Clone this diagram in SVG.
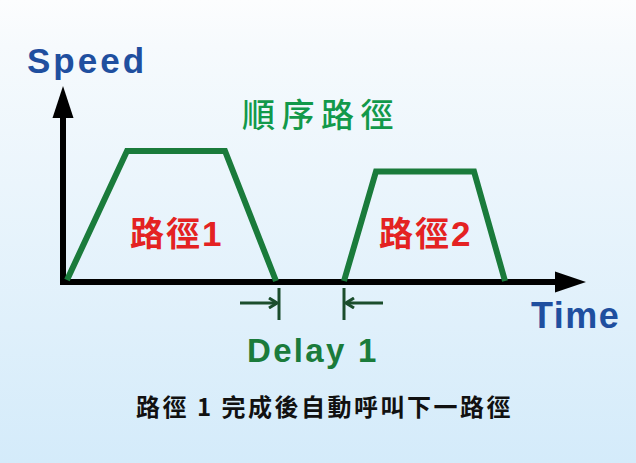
<svg xmlns="http://www.w3.org/2000/svg" width="636" height="463" viewBox="0 0 636 463">
<defs>
<linearGradient id="bg" x1="0" y1="0" x2="0" y2="1">
<stop offset="0" stop-color="#fcfdfe"/>
<stop offset="0.1" stop-color="#f6fafd"/>
<stop offset="1" stop-color="#d4ebfa"/>
</linearGradient>
<marker id="chev" markerWidth="10" markerHeight="12" refX="9" refY="6" orient="auto" markerUnits="userSpaceOnUse">
<path d="M1,1 L9,6 L1,11" fill="none" stroke="#1b4d2c" stroke-width="3"/>
</marker>
</defs>
<style>
.axis{stroke:#000;stroke-width:6;fill:none}
.prof{stroke:#1a7b3b;stroke-width:6;fill:none;stroke-linejoin:miter}
.dl{stroke:#1b4d2c;stroke-width:3;fill:none}
.lbl{font-family:"Liberation Sans",Arial,sans-serif;font-weight:bold}
.cjk{font-family:"Noto Sans CJK TC","Noto Sans CJK SC",sans-serif}
</style>
<rect x="0" y="0" width="636" height="463" fill="url(#bg)"/>
<g id="axes">
<line class="axis" x1="63" y1="282" x2="556" y2="282"/>
<path d="M555,271.5 L586,282 L555,292.5 Z" fill="#000"/>
<line class="axis" x1="63" y1="285" x2="63" y2="115"/>
<path d="M52.5,118 L63,86 L73.5,118 Z" fill="#000"/>
</g>
<g id="path1">
<path class="prof" d="M67,280 L127,151 L225,151 L276,281"/>
</g>
<g id="path2">
<path class="prof" d="M344,281 L376,171.5 L474,171.5 L505,281"/>
</g>
<g id="connectors">
<line class="dl" x1="279" y1="288" x2="279" y2="320"/>
<line class="dl" x1="240" y1="303" x2="277" y2="303" marker-end="url(#chev)"/>
<line class="dl" x1="344" y1="288" x2="344" y2="320"/>
<line class="dl" x1="383" y1="303" x2="346" y2="303" marker-end="url(#chev)"/>
</g>
<g id="labels">
<text class="lbl" x="27" y="73" font-size="35" fill="#1f4f9f" letter-spacing="3">Speed</text>
<text class="lbl" x="531" y="328" font-size="36" fill="#1f4f9f" letter-spacing="1.5">Time</text>
<text class="cjk" x="242" y="127" font-size="33" font-weight="500" fill="#12994a" letter-spacing="6.5">順序路徑</text>
<text x="130" y="246" font-size="34" font-weight="bold" fill="#e42222" letter-spacing="2"><tspan class="cjk">路徑</tspan><tspan class="lbl" font-size="35">1</tspan></text>
<text x="379" y="246" font-size="34" font-weight="bold" fill="#e42222" letter-spacing="2"><tspan class="cjk">路徑</tspan><tspan class="lbl" font-size="35">2</tspan></text>
<text class="lbl" x="247" y="362" font-size="33" fill="#1a7b3b" letter-spacing="2.3">Delay 1</text>
<text class="cjk" x="136" y="416" font-size="24" font-weight="bold" fill="#111" letter-spacing="2.5">路徑 1 完成後自動呼叫下一路徑</text>
</g>
</svg>
